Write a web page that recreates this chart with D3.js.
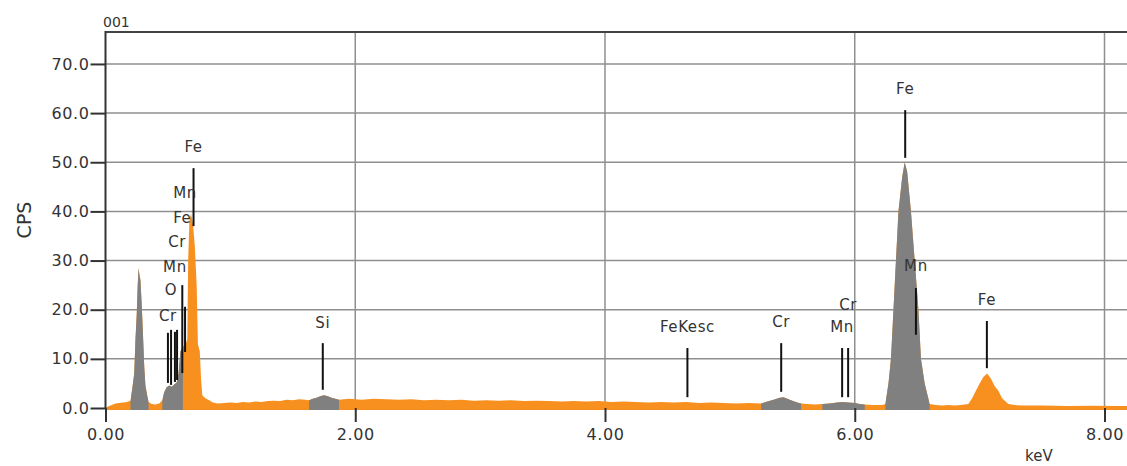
<!DOCTYPE html>
<html>
<head>
<meta charset="utf-8">
<script src="https://cdn.jsdelivr.net/npm/d3@7"></script>
<style>
  body { margin: 0; background: #ffffff; }
  text { font-family: "DejaVu Sans", sans-serif; fill: #333; }
</style>
</head>
<body>
<svg></svg>
<script>
// spectrum: energy (keV) and counts (CPS)
var spectrumKeV = [
  0.00, 0.02, 0.05, 0.08, 0.11, 0.14, 0.17, 0.20, 0.215, 0.23, 0.24, 0.25, 0.258, 0.265, 0.272, 0.28, 0.29, 0.30, 0.31, 0.32, 0.335, 0.345,
  0.37, 0.40, 0.43, 0.455, 0.47, 0.49, 0.51, 0.53, 0.55, 0.57, 0.585, 0.60, 0.62, 0.64, 0.655, 0.662, 0.672, 0.685, 0.70, 0.715, 0.73, 0.74,
  0.755, 0.765, 0.775, 0.80, 0.83, 0.86, 0.90, 0.95, 1.00, 1.05, 1.10, 1.15, 1.20, 1.25, 1.30, 1.35, 1.40, 1.45, 1.50, 1.55, 1.60,
  1.63, 1.66, 1.69, 1.72, 1.75, 1.78, 1.81, 1.84, 1.87,
  1.95, 2.05, 2.15, 2.25, 2.35, 2.45, 2.55, 2.65, 2.75, 2.85, 2.95, 3.05, 3.15, 3.25, 3.35, 3.45, 3.55, 3.65, 3.75, 3.85, 3.95,
  4.05, 4.15, 4.25, 4.35, 4.45, 4.55, 4.65, 4.75, 4.85, 4.95, 5.05, 5.15, 5.25,
  5.30, 5.35, 5.40, 5.43, 5.46, 5.50, 5.54, 5.57, 5.62, 5.68, 5.74, 5.80, 5.86, 5.90, 5.95, 6.00, 6.04, 6.08, 6.15, 6.22,
  6.245, 6.27, 6.29, 6.31, 6.33, 6.35, 6.38, 6.40, 6.42, 6.45, 6.48, 6.51, 6.53, 6.56, 6.60,
  6.65, 6.70, 6.75, 6.80, 6.85, 6.91, 6.94, 6.97, 7.00, 7.03, 7.06, 7.09, 7.12, 7.15, 7.18, 7.23,
  7.28, 7.35, 7.50, 7.70, 7.90, 8.10, 8.30
];
var spectrumCps = [
  0.0, 0.3, 0.6, 0.9, 1.0, 1.1, 1.2, 1.5, 4.0, 7.0, 14, 19, 25, 28.5, 27, 26, 21, 15, 8.5, 4.5, 2.4, 1.2,
  0.8, 0.7, 0.9, 1.6, 3.2, 4.2, 4.6, 4.3, 4.8, 5.2, 7.0, 11.5, 12.5, 12.8, 14, 30, 38, 39.5, 37.5, 33, 25, 13,
  11.5, 6, 2.6, 2.0, 1.6, 1.1, 0.9, 1.0, 1.1, 1.0, 1.2, 1.1, 1.3, 1.2, 1.4, 1.5, 1.4, 1.7, 1.6, 1.8, 1.7,
  1.6, 1.9, 2.1, 2.4, 2.6, 2.4, 2.1, 1.9, 1.7,
  1.9, 1.7, 1.9, 1.8, 1.7, 1.8, 1.6, 1.7, 1.6, 1.7, 1.5, 1.6, 1.5, 1.6, 1.4, 1.5, 1.4, 1.3, 1.4, 1.3, 1.4,
  1.2, 1.3, 1.2, 1.1, 1.2, 1.1, 1.2, 1.0, 1.1, 1.0, 0.9, 1.0, 0.9,
  1.3, 1.7, 2.1, 2.2, 1.9, 1.5, 1.1, 0.9, 0.8, 0.7, 0.8, 0.9, 1.1, 1.2, 1.1, 1.0, 0.8, 0.7, 0.6, 0.6,
  0.8, 5, 10, 20, 30, 40, 47, 50, 48, 40, 30, 20, 10, 5, 0.8,
  0.6, 0.5, 0.6, 0.5, 0.6, 0.8, 2.0, 3.5, 5.0, 6.3, 7.0, 6.0, 4.5, 3.5, 2.0, 0.8,
  0.6, 0.5, 0.5, 0.4, 0.45, 0.4, 0.4
];

// identified peak windows drawn in grey
var roiStart = [0.200, 0.455, 1.630, 5.250, 5.740, 6.245];
var roiEnd   = [0.345, 0.620, 1.870, 5.570, 6.080, 6.600];

// element markers
var markerKeV      = [0.500, 0.525, 0.556, 0.573, 0.615, 0.637, 0.705, 1.740, 4.660, 5.411, 5.899, 5.947, 6.404, 6.490, 7.058];
var markerLabel    = ["Cr", "O", "Mn", "Cr", "Fe", "Mn", "Fe", "Si", "FeKesc", "Cr", "Mn", "Cr", "Fe", "Mn", "Fe"];
var markerTop      = [15.3, 15.9, 15.5, 15.9, 25.0, 20.6, 48.8, 13.2, 12.2, 13.2, 12.2, 12.2, 60.6, 24.4, 17.7];
var markerBottom   = [5.1, 4.7, 5.3, 5.7, 7.1, 11.4, 37.0, 3.7, 2.2, 3.3, 2.2, 2.2, 50.9, 14.9, 8.1];
var markerLabelCps = [18.9, 24.0, 28.7, 33.8, 38.7, 43.8, 53.1, 17.3, 16.5, 17.5, 16.5, 21.0, 64.9, 28.9, 22.0];

var yTicks = [0, 10, 20, 30, 40, 50, 60, 70];
var xTicks = [0, 2, 4, 6, 8];

window.onload = function() {
  var width = 1127, height = 466;
  var svg = d3.select("svg").attr("width", width).attr("height", height);

  var x = d3.scaleLinear().domain([0, 8]).range([105.5, 1104.5]);
  var y = d3.scaleLinear().domain([0, 76.5]).range([408, 32]);
  var top = y(76.5), right = width + 10;

  var spectrum = spectrumKeV.map(function(k, i) { return { k: k, c: spectrumCps[i] }; });

  // grid
  svg.append("g").selectAll("line")
    .data(yTicks).enter().append("line")
    .attr("x1", x(0)).attr("x2", right)
    .attr("y1", function(d) { return y(d); }).attr("y2", function(d) { return y(d); })
    .attr("stroke", "#8f8f8f").attr("stroke-width", 1.5);
  svg.append("g").selectAll("line")
    .data(xTicks.slice(1)).enter().append("line")
    .attr("x1", function(d) { return x(d); }).attr("x2", function(d) { return x(d); })
    .attr("y1", top).attr("y2", y(0))
    .attr("stroke", "#8f8f8f").attr("stroke-width", 1.5);

  // spectrum: orange everywhere, grey inside the peak windows
  var area = d3.area()
    .x(function(d) { return x(d.k); })
    .y0(y(0) + 2)
    .y1(function(d) { return y(d.c); });

  svg.append("clipPath").attr("id", "roi").selectAll("rect")
    .data(roiStart).enter().append("rect")
    .attr("x", function(d) { return x(d); })
    .attr("width", function(d, i) { return x(roiEnd[i]) - x(d); })
    .attr("y", 0).attr("height", height);

  svg.append("path").datum(spectrum).attr("d", area).attr("fill", "#f7901e");
  svg.append("path").datum(spectrum).attr("d", area).attr("fill", "#808080")
    .attr("clip-path", "url(#roi)");

  // frame
  svg.append("line").attr("x1", x(0)).attr("x2", right).attr("y1", top).attr("y2", top)
    .attr("stroke", "#444").attr("stroke-width", 2);
  svg.append("line").attr("x1", x(0)).attr("x2", x(0)).attr("y1", top - 1).attr("y2", y(0))
    .attr("stroke", "#333").attr("stroke-width", 2);

  // axes
  var yAxis = svg.append("g").attr("transform", "translate(" + x(0) + ",0)")
    .call(d3.axisLeft(y).tickValues(yTicks).tickFormat(d3.format(".1f")).tickSize(15).tickPadding(1));
  var xAxis = svg.append("g").attr("transform", "translate(0," + y(0) + ")")
    .call(d3.axisBottom(x).tickValues(xTicks).tickFormat(d3.format(".2f")).tickSize(14).tickPadding(7));
  [yAxis, xAxis].forEach(function(ax) {
    ax.select(".domain").remove();
    ax.selectAll("line").attr("stroke", "#333").attr("stroke-width", 2);
    ax.selectAll("text").attr("fill", "#333").style("font-family", "DejaVu Sans")
      .style("font-size", "16px").style("letter-spacing", "0.6px");
  });

  // element markers
  svg.append("g").selectAll("line")
    .data(markerKeV).enter().append("line")
    .attr("x1", function(d) { return x(d); }).attr("x2", function(d) { return x(d); })
    .attr("y1", function(d, i) { return y(markerTop[i]); })
    .attr("y2", function(d, i) { return y(markerBottom[i]); })
    .attr("stroke", "#111").attr("stroke-width", 2);
  svg.append("g").selectAll("text")
    .data(markerKeV).enter().append("text")
    .attr("x", function(d) { return x(d); })
    .attr("y", function(d, i) { return y(markerLabelCps[i]); })
    .attr("dy", "0.36em")
    .attr("text-anchor", "middle")
    .style("font-size", "15px").style("letter-spacing", "0.6px")
    .text(function(d, i) { return markerLabel[i]; });

  // titles
  svg.append("text").attr("x", 103).attr("y", 27).style("font-size", "14px").text("001");
  svg.append("text").attr("transform", "translate(31,220) rotate(-90)")
    .attr("text-anchor", "middle").style("font-size", "19px").text("CPS");
  svg.append("text").attr("x", 1025).attr("y", 461).style("font-size", "15px").text("keV");
};
</script>
</body>
</html>
